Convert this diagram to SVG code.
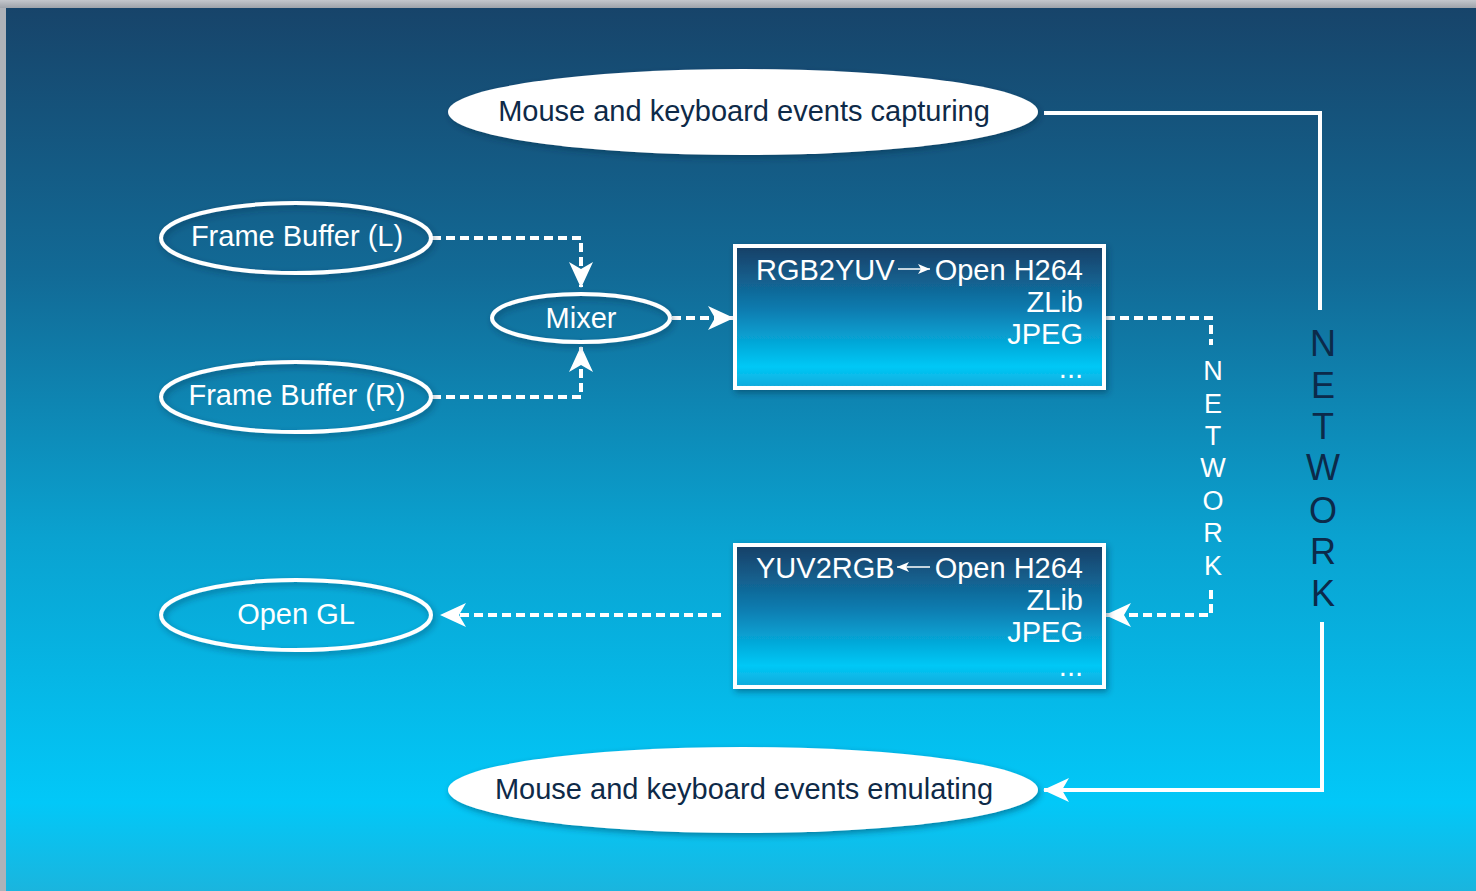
<svg xmlns="http://www.w3.org/2000/svg" width="1476" height="891" viewBox="0 0 1476 891">
<defs>
<linearGradient id="bg" x1="0" y1="0" x2="0" y2="1">
<stop offset="0" stop-color="#17446a"/>
<stop offset="0.3" stop-color="#126a96"/>
<stop offset="0.6" stop-color="#0aa2d0"/>
<stop offset="0.9" stop-color="#02c8f8"/>
<stop offset="1" stop-color="#1ab5de"/>
</linearGradient>
<linearGradient id="bx" x1="0" y1="0" x2="0" y2="1">
<stop offset="0" stop-color="#193f66"/>
<stop offset="0.45" stop-color="#0d7cb0"/>
<stop offset="0.85" stop-color="#00c8f6"/>
<stop offset="1" stop-color="#14aadb"/>
</linearGradient>
<linearGradient id="topb" x1="0" y1="0" x2="0" y2="1">
<stop offset="0" stop-color="#c4c7cc"/>
<stop offset="1" stop-color="#9ea3aa"/>
</linearGradient>
<filter id="sh" x="-10%" y="-20%" width="120%" height="150%">
<feDropShadow dx="2" dy="3" stdDeviation="3" flood-color="#0a2a45" flood-opacity="0.45"/>
</filter>
<marker id="ah" viewBox="0 0 26 24" refX="25" refY="12" markerWidth="26" markerHeight="24" markerUnits="userSpaceOnUse" orient="auto">
<path d="M0,0 L26,12 L0,24 L7,12 Z" fill="#ffffff"/>
</marker>
<marker id="sah" viewBox="0 0 12 10" refX="12" refY="5" markerWidth="12" markerHeight="10" markerUnits="userSpaceOnUse" orient="auto">
<path d="M0,0 L12,5 L0,10 L3,5 Z" fill="#ffffff"/>
</marker>
<style>
.wt{fill:#ffffff;font-family:"Liberation Sans",Arial,sans-serif;font-size:29px}
.dk{fill:#0e2a48;font-family:"Liberation Sans",Arial,sans-serif;font-size:29px}
.bt{fill:#ffffff;font-family:"Liberation Sans",Arial,sans-serif;font-size:29px}
.oe{fill:none;stroke:#ffffff;stroke-width:4}
.box{fill:url(#bx);stroke:#ffffff;stroke-width:4}
.dash{fill:none;stroke:#ffffff;stroke-width:4;stroke-dasharray:9 5}
.sol{fill:none;stroke:#ffffff;stroke-width:4}
.net1{fill:#ffffff;font-family:"Liberation Sans",Arial,sans-serif;font-size:27px;text-anchor:middle}
.net2{fill:#0c2a4a;font-family:"Liberation Sans",Arial,sans-serif;font-size:36px;text-anchor:middle}
</style>
</defs>
<rect x="0" y="0" width="1476" height="891" fill="#aeb2b8"/>
<rect x="0" y="0" width="1476" height="8" fill="url(#topb)"/>
<rect x="6" y="8" width="1470" height="883" fill="url(#bg)"/>

<g id="connectors">
<path class="dash" d="M432,238 H581 V287" marker-end="url(#ah)"/>
<path class="dash" d="M432,397 H581 V347" marker-end="url(#ah)"/>
<path class="dash" d="M672,318 H733" marker-end="url(#ah)"/>
<path class="dash" d="M1106,318 H1211 V345"/>
<path class="dash" d="M1211,590 V615 H1106" marker-end="url(#ah)"/>
<path class="dash" d="M721,615 H441" marker-end="url(#ah)"/>
<path class="sol" d="M1044,113 H1320 V310"/>
<path class="sol" d="M1322,622 V790 H1044" marker-end="url(#ah)"/>
<g id="net-small">
<text class="net1" x="1213" y="380">N</text>
<text class="net1" x="1213" y="413">E</text>
<text class="net1" x="1213" y="445">T</text>
<text class="net1" x="1213" y="477">W</text>
<text class="net1" x="1213" y="510">O</text>
<text class="net1" x="1213" y="542">R</text>
<text class="net1" x="1213" y="575">K</text>
</g>
<g id="net-big">
<text class="net2" x="1323" y="356">N</text>
<text class="net2" x="1323" y="398">E</text>
<text class="net2" x="1323" y="439">T</text>
<text class="net2" x="1323" y="480">W</text>
<text class="net2" x="1323" y="523">O</text>
<text class="net2" x="1323" y="564">R</text>
<text class="net2" x="1323" y="606">K</text>
</g>
</g>

<g id="capture">
<ellipse cx="743" cy="112" rx="295" ry="43" fill="#ffffff" filter="url(#sh)"/>
<text class="dk" x="744" y="121" text-anchor="middle">Mouse and keyboard events capturing</text>
</g>
<g id="emulate">
<ellipse cx="743" cy="790" rx="295" ry="43" fill="#ffffff" filter="url(#sh)"/>
<text class="dk" x="744" y="799" text-anchor="middle">Mouse and keyboard events emulating</text>
</g>
<g id="fbl">
<ellipse class="oe" cx="296" cy="238" rx="135" ry="35" filter="url(#sh)"/>
<text class="wt" x="297" y="246" text-anchor="middle">Frame Buffer (L)</text>
</g>
<g id="fbr">
<ellipse class="oe" cx="296" cy="397" rx="135" ry="35" filter="url(#sh)"/>
<text class="wt" x="297" y="405" text-anchor="middle">Frame Buffer (R)</text>
</g>
<g id="mixer">
<ellipse class="oe" cx="581" cy="318" rx="89" ry="24" filter="url(#sh)"/>
<text class="wt" x="581" y="328" text-anchor="middle">Mixer</text>
</g>
<g id="opengl">
<ellipse class="oe" cx="296" cy="615" rx="135" ry="35" filter="url(#sh)"/>
<text class="wt" x="296" y="624" text-anchor="middle">Open GL</text>
</g>
<g id="encoder">
<rect class="box" x="735" y="246" width="369" height="142" filter="url(#sh)"/>
<text class="bt" x="756" y="280">RGB2YUV</text>
<line x1="898" y1="269" x2="930" y2="269" stroke="#ffffff" stroke-width="1.5" marker-end="url(#sah)"/>
<text class="bt" x="1083" y="280" text-anchor="end">Open H264</text>
<text class="bt" x="1083" y="312" text-anchor="end">ZLib</text>
<text class="bt" x="1083" y="344" text-anchor="end">JPEG</text>
<text class="bt" x="1083" y="378" text-anchor="end">...</text>
</g>
<g id="decoder">
<rect class="box" x="735" y="545" width="369" height="142" filter="url(#sh)"/>
<text class="bt" x="756" y="578">YUV2RGB</text>
<line x1="930" y1="567" x2="897" y2="567" stroke="#ffffff" stroke-width="1.5" marker-end="url(#sah)"/>
<text class="bt" x="1083" y="578" text-anchor="end">Open H264</text>
<text class="bt" x="1083" y="610" text-anchor="end">ZLib</text>
<text class="bt" x="1083" y="642" text-anchor="end">JPEG</text>
<text class="bt" x="1083" y="676" text-anchor="end">...</text>
</g>
</svg>
